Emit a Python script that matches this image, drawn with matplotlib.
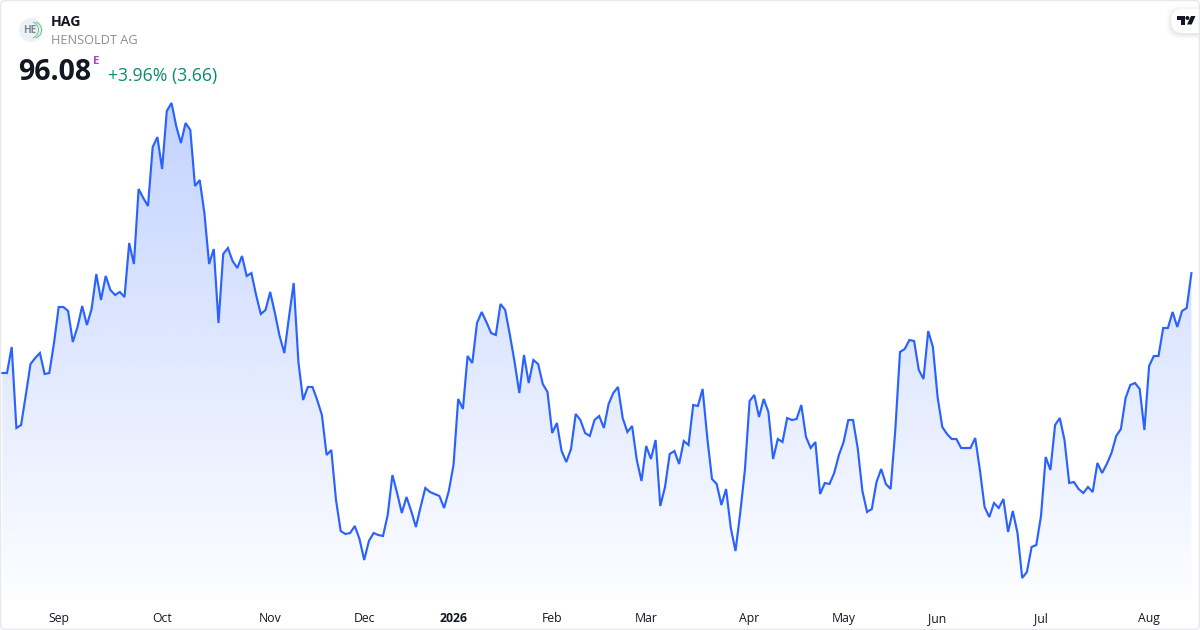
import numpy as np
import matplotlib
matplotlib.use('Agg')
import matplotlib.pyplot as plt
from matplotlib.colors import LinearSegmentedColormap
from matplotlib.patches import Circle, Arc, FancyBboxPatch, Polygon

plt.rcParams['font.family'] = ['Open Sans', 'DejaVu Sans']

symbol = 'HAG'
company = 'HENSOLDT AG'
last_price = '96.08'
change_text = '+3.96% (3.66)'

closes = [
    86.1, 86.1, 88.7, 80.6, 80.9, 83.9, 87.0, 87.6, 88.1, 86.0,
    86.1, 89.1, 92.7, 92.7, 92.3, 89.2, 90.7, 92.8, 90.9, 92.5,
    96.0, 93.4, 95.8, 94.4, 93.9, 94.2, 93.7, 99.1, 97.0, 104.5,
    103.6, 102.8, 108.7, 109.7, 106.5, 112.3, 113.1, 110.8, 109.1, 111.1,
    110.4, 104.8, 105.4, 102.1, 97.0, 98.5, 91.1, 98.0, 98.6, 97.3,
    96.6, 97.8, 95.8, 96.1, 93.9, 92.0, 92.4, 94.2, 92.1, 89.8,
    88.1, 91.7, 95.1, 87.2, 83.4, 84.7, 84.7, 83.4, 81.9, 77.9,
    78.4, 73.4, 70.3, 70.0, 70.1, 70.8, 69.5, 67.4, 69.3, 70.1,
    69.9, 69.8, 71.9, 75.9, 74.1, 72.1, 73.7, 72.3, 70.7, 72.7,
    74.6, 74.2, 74.0, 73.8, 72.6, 74.3, 76.9, 83.5, 82.5, 87.8,
    87.1, 91.1, 92.2, 91.2, 90.1, 89.9, 93.0, 92.4, 89.9, 87.2,
    84.1, 87.9, 85.1, 87.4, 87.0, 85.0, 84.2, 80.1, 81.1, 78.3,
    77.2, 78.5, 82.0, 81.4, 80.1, 79.8, 81.4, 81.8, 80.6, 83.0,
    84.1, 84.7, 81.6, 80.2, 80.8, 77.4, 75.3, 78.8, 77.5, 79.4,
    72.8, 74.7, 78.0, 78.3, 77.0, 79.3, 78.9, 82.9, 82.8, 84.5,
    79.6, 75.5, 75.0, 72.9, 74.5, 70.6, 68.3, 72.1, 76.4, 83.3,
    83.9, 81.7, 83.5, 82.2, 77.5, 79.5, 79.2, 81.6, 81.4, 81.5,
    82.9, 79.7, 78.6, 79.2, 74.0, 75.1, 75.0, 76.1, 77.9, 79.2,
    81.4, 81.4, 78.6, 74.3, 72.2, 72.5, 75.2, 76.5, 75.0, 74.5,
    80.4, 88.2, 88.5, 89.4, 89.3, 86.4, 85.5, 90.3, 88.7, 83.7,
    80.7, 80.0, 79.5, 79.5, 78.6, 78.6, 78.6, 79.6, 76.4, 72.7,
    71.7, 73.1, 72.6, 73.5, 70.2, 72.3, 70.1, 65.6, 66.2, 68.7,
    68.9, 71.8, 77.7, 76.4, 80.9, 81.6, 79.4, 75.1, 75.2, 74.5,
    74.1, 74.7, 74.2, 77.1, 76.1, 77.0, 78.1, 79.8, 80.5, 83.6,
    84.9, 85.1, 84.5, 80.4, 86.8, 87.8, 87.8, 90.6, 90.6, 92.2,
    90.7, 92.3, 92.6, 96.08,
]

tick_labels = ['Sep', 'Oct', 'Nov', 'Dec', '2026', 'Feb', 'Mar', 'Apr', 'May', 'Jun', 'Jul', 'Aug']
tick_days = [12, 34, 57, 77, 96, 117, 137, 159, 179, 199, 221, 244]

days = np.arange(len(closes))
closes = np.array(closes)

fig = plt.figure(figsize=(12, 6.3), dpi=100)
ax = fig.add_axes([0, 0, 1, 1])
ax.axis('off')

# area under the line, gradient clipped to the polygon
base = 63.4
area = ax.fill_between(days, closes, base, color='none', lw=0)
cmap = LinearSegmentedColormap.from_list('area', [(41/255, 98/255, 1, 0.01), (41/255, 98/255, 1, 0.28)])
grad = np.linspace(0, 1, 256).reshape(-1, 1)
im = ax.imshow(grad, cmap=cmap, origin='lower', aspect='auto', vmin=0, vmax=1,
               extent=[days[0], days[-1], base, closes.max()], zorder=1)
ax.set_xlim(-0.49, 254.83)
ax.set_ylim(60.4, 123.4)
im.set_clip_path(area.get_paths()[0], transform=ax.transData)

ax.plot(days, closes, color='#2962ff', lw=1.55, solid_joinstyle='miter', zorder=2)

for d, lab in zip(tick_days, tick_labels):
    ax.text(d, 1 - 618.5 / 630, lab, transform=ax.get_xaxis_transform(), ha='center', va='center',
            fontsize=8.8, color='#131722', fontweight='bold' if lab == '2026' else 'normal')

# overlay in pixel coordinates for header, logos and the card border
ov = fig.add_axes([0, 0, 1, 1], facecolor='none')
ov.set_xlim(0, 1200)
ov.set_ylim(630, 0)
ov.axis('off')

ov.add_patch(FancyBboxPatch((0.5, 0.5), 1199, 629, boxstyle='round,pad=0,rounding_size=5',
                            fc='none', ec='#e6e8ee', lw=1.0, zorder=5))

ov.add_patch(Circle((31, 30), 12, fc='#eef2f6', ec='none'))
ov.add_patch(Arc((30, 30), 17, 17, theta1=-70, theta2=70, color='#6cc08b', lw=0.7))
ov.add_patch(Arc((33, 30), 17, 17, theta1=-70, theta2=70, color='#6cc08b', lw=0.7))
ov.text(30, 30.5, 'HE', ha='center', va='center', fontsize=7.2, fontweight='bold', color='#7f8791')

ov.text(51, 22, symbol, ha='left', va='center', fontsize=10.2, fontweight='bold', color='#131722')
ov.text(51, 41, company, ha='left', va='center', fontsize=9.2, color='#8a8e99')
ov.text(18.5, 73, last_price, ha='left', va='center', fontsize=20.5, fontweight='bold', color='#131722')
ov.text(93, 62, 'E', ha='left', va='center', fontsize=8.2, fontweight='bold', color='#ab47bc')
ov.text(108, 75.5, change_text, ha='left', va='center', fontsize=12.7, color='#0b8a72')

# TradingView badge
for spread, alpha in [(5, 0.012), (3.5, 0.018), (2, 0.025), (1, 0.03)]:
    ov.add_patch(FancyBboxPatch((1171 - spread, 9 - spread + 1.5), 50 + spread * 2, 24 + spread * 2,
                                boxstyle='round,pad=0,rounding_size=12', fc='black', ec='none', alpha=alpha, zorder=3))
ov.add_patch(FancyBboxPatch((1171, 9), 50, 24, boxstyle='round,pad=0,rounding_size=12', fc='white', ec='none', zorder=4))
tv = '#131722'
ov.add_patch(Polygon([(1177, 16), (1185, 16), (1185, 24.5), (1180.7, 24.5), (1180.7, 20), (1177, 20)], fc=tv, ec='none', zorder=6))
ov.add_patch(Circle((1187.4, 18), 2, fc=tv, ec='none', zorder=6))
ov.add_patch(Polygon([(1191, 16), (1195.5, 16), (1191.7, 24.5), (1187, 24.5)], fc=tv, ec='none', zorder=6))

fig.savefig('out.png', dpi=100)
